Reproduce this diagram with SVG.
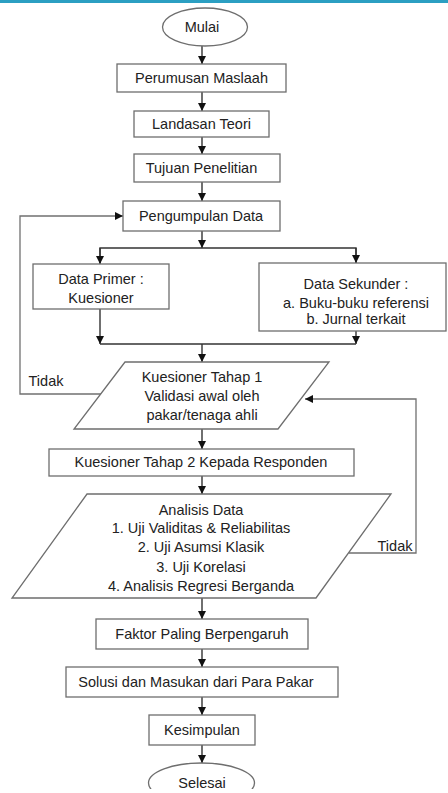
<svg xmlns="http://www.w3.org/2000/svg" width="448" height="793" viewBox="0 0 448 793">
<style>
.box{fill:#fff;stroke:#6e6e6e;stroke-width:1.3}
.t{font-family:"Liberation Sans",Arial,sans-serif;font-size:14.5px;fill:#222;text-anchor:middle}
.c{fill:none;stroke:#333;stroke-width:1.4}
.fb{fill:none;stroke:#707070;stroke-width:1.3}
</style>
<defs>
<marker id="ah" viewBox="0 0 10 10" refX="10" refY="5" markerWidth="8" markerHeight="8" markerUnits="userSpaceOnUse" orient="auto">
<path d="M0,0 L10,5 L0,10 z" fill="#111"/>
</marker>
<clipPath id="clipEnd"><rect x="0" y="0" width="448" height="789"/></clipPath>
</defs>
<rect x="0" y="0" width="448" height="793" fill="#fff"/>
<rect x="0" y="0" width="448" height="3" fill="#2b9fc2"/>

<g id="connectors">
<line class="c" x1="202" y1="46" x2="202" y2="64" marker-end="url(#ah)"/>
<line class="c" x1="202" y1="92" x2="202" y2="111" marker-end="url(#ah)"/>
<line class="c" x1="202" y1="137" x2="202" y2="154" marker-end="url(#ah)"/>
<line class="c" x1="202" y1="182" x2="202" y2="201" marker-end="url(#ah)"/>
<line class="c" x1="202" y1="231" x2="202" y2="248" marker-end="url(#ah)"/>
<polyline class="c" points="100,263 100,248 356,248 356,263"/>
<line class="c" x1="100" y1="248" x2="100" y2="264" marker-end="url(#ah)"/>
<line class="c" x1="356" y1="248" x2="356" y2="263" marker-end="url(#ah)"/>
<line class="c" x1="100" y1="309" x2="100" y2="344" marker-end="url(#ah)"/>
<line class="c" x1="356" y1="331" x2="356" y2="344" marker-end="url(#ah)"/>
<line class="c" x1="100" y1="344" x2="356" y2="344"/>
<line class="c" x1="202" y1="344" x2="202" y2="362" marker-end="url(#ah)"/>
<line class="c" x1="202" y1="429" x2="202" y2="449" marker-end="url(#ah)"/>
<line class="c" x1="202" y1="476" x2="202" y2="494" marker-end="url(#ah)"/>
<line class="c" x1="202" y1="598" x2="202" y2="619" marker-end="url(#ah)"/>
<line class="c" x1="202" y1="649" x2="202" y2="667" marker-end="url(#ah)"/>
<line class="c" x1="202" y1="697" x2="202" y2="715" marker-end="url(#ah)"/>
<line class="c" x1="202" y1="745" x2="202" y2="763" marker-end="url(#ah)"/>
<polyline class="fb" points="101,394 20,394 20,216 123,216" marker-end="url(#ah)"/>
<polyline class="fb" points="349,553 416,553 416,399 305,399" marker-end="url(#ah)"/>
<text class="t" x="46" y="386">Tidak</text>
<text class="t" x="395" y="551">Tidak</text>
</g>

<g id="mulai">
<ellipse class="box" cx="205" cy="27" rx="42.5" ry="19"/>
<text class="t" x="202" y="32">Mulai</text>
</g>
<g id="perumusan">
<rect class="box" x="117" y="64" width="169" height="28"/>
<text class="t" x="201.5" y="83">Perumusan Maslaah</text>
</g>
<g id="landasan">
<rect class="box" x="134" y="111" width="135" height="26"/>
<text class="t" x="201.5" y="129">Landasan Teori</text>
</g>
<g id="tujuan">
<rect class="box" x="134" y="154" width="146" height="28"/>
<text class="t" x="201.5" y="173">Tujuan Penelitian</text>
</g>
<g id="pengumpulan">
<rect class="box" x="123" y="201" width="157" height="30"/>
<text class="t" x="201" y="221">Pengumpulan Data</text>
</g>
<g id="primer">
<rect class="box" x="33" y="264" width="136" height="45"/>
<text class="t" x="101" y="284">Data Primer :</text>
<text class="t" x="101" y="303">Kuesioner</text>
</g>
<g id="sekunder">
<rect class="box" x="259" y="263" width="187" height="68"/>
<text class="t" x="356" y="289">Data Sekunder :</text>
<text class="t" x="356" y="308">a. Buku-buku referensi</text>
<text class="t" x="356" y="324">b. Jurnal terkait</text>
</g>
<g id="tahap1">
<polygon class="box" points="125,362 329,362 278,429 74,429"/>
<text class="t" x="202" y="382">Kuesioner Tahap 1</text>
<text class="t" x="202" y="401">Validasi awal oleh</text>
<text class="t" x="202" y="420">pakar/tenaga ahli</text>
</g>
<g id="tahap2">
<rect class="box" x="49" y="449" width="305" height="27"/>
<text class="t" x="201" y="467">Kuesioner Tahap 2 Kepada Responden</text>
</g>
<g id="analisis">
<polygon class="box" points="87,494 391,494 316,598 12,598"/>
<text class="t" x="201" y="515">Analisis Data</text>
<text class="t" x="201" y="533">1. Uji Validitas &amp; Reliabilitas</text>
<text class="t" x="201" y="552">2. Uji Asumsi Klasik</text>
<text class="t" x="201" y="572">3. Uji Korelasi</text>
<text class="t" x="201" y="591">4. Analisis Regresi Berganda</text>
</g>
<g id="faktor">
<rect class="box" x="96" y="619" width="212" height="30"/>
<text class="t" x="202" y="639">Faktor Paling Berpengaruh</text>
</g>
<g id="solusi">
<rect class="box" x="66" y="667" width="272" height="30"/>
<text class="t" x="196" y="687">Solusi dan Masukan dari Para Pakar</text>
</g>
<g id="kesimpulan">
<rect class="box" x="149" y="715" width="106" height="30"/>
<text class="t" x="202" y="735">Kesimpulan</text>
</g>
<g id="selesai" clip-path="url(#clipEnd)">
<ellipse class="box" cx="201.5" cy="783" rx="53" ry="20"/>
<text class="t" x="202" y="788">Selesai</text>
</g>
</svg>
